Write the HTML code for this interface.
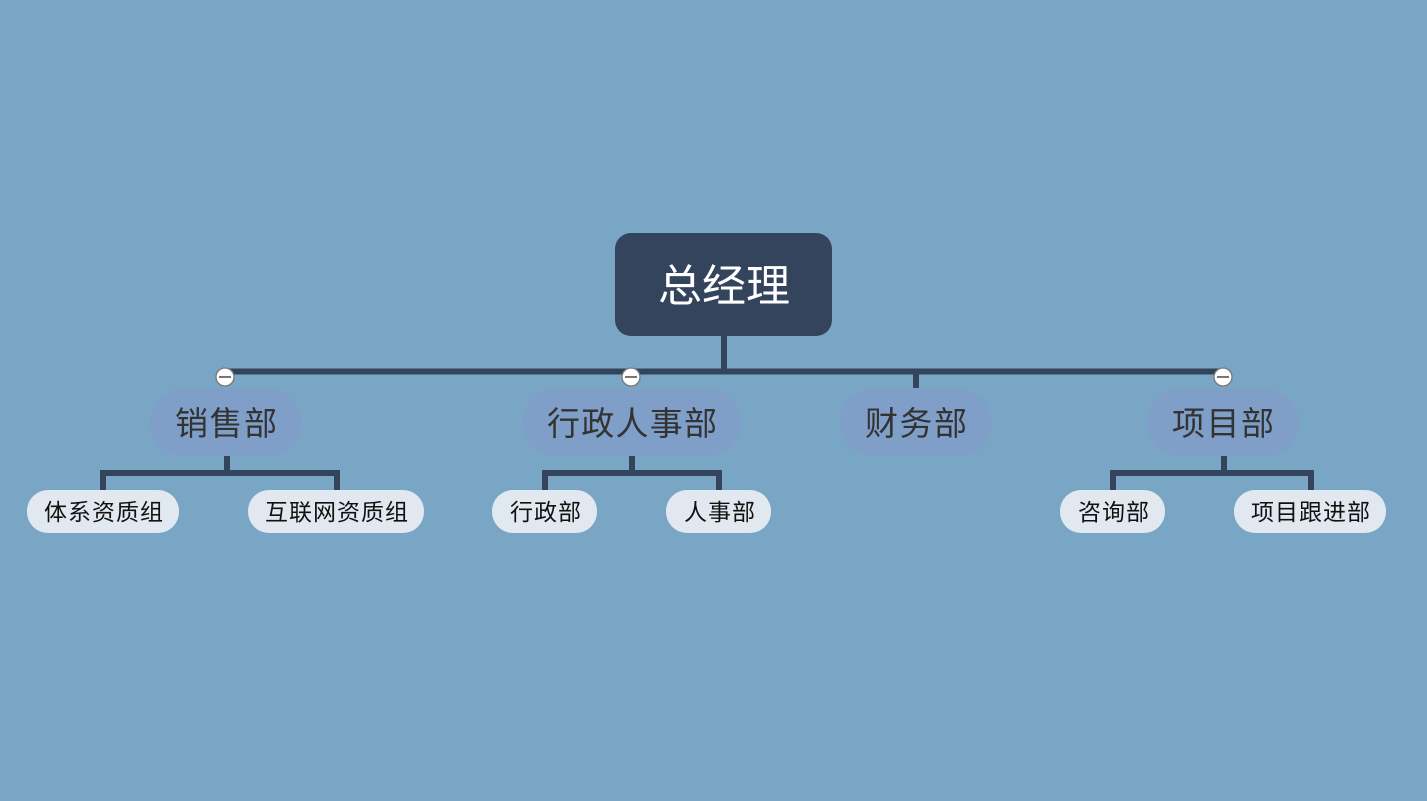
<!DOCTYPE html>
<html><head><meta charset="utf-8"><style>
html,body{margin:0;padding:0;background:#79a6c4;}
svg{display:block}
text{font-family:"Liberation Sans","Noto Sans CJK SC",sans-serif;}
</style></head><body>
<svg width="1427" height="801" viewBox="0 0 1427 801" xmlns="http://www.w3.org/2000/svg">
<rect width="1427" height="801" fill="#79a6c4"/>
<g stroke="#34445c" stroke-width="6" fill="none">
<line x1="724" y1="336" x2="724" y2="372"/>
<line x1="225" y1="371.5" x2="1223" y2="371.5"/>
<line x1="916" y1="371" x2="916" y2="388"/>
<path d="M227 456 V473 M103 490 V473 H337 V490"/>
<path d="M632 456 V473 M545 490 V473 H719 V490"/>
<path d="M1224 456 V473 M1113 490 V473 H1311 V490"/>
</g>
<rect x="615" y="233" width="217" height="103" rx="16" fill="#34445c"/>
<text x="658" y="301" font-size="44" fill="#fff" textLength="132" lengthAdjust="spacingAndGlyphs">总经理</text>
<g fill="#7f9fc8">
<rect x="150" y="389" width="152" height="67" rx="33"/>
<rect x="522" y="389" width="219" height="67" rx="33"/>
<rect x="840" y="389" width="152" height="67" rx="33"/>
<rect x="1147" y="389" width="152" height="67" rx="33"/>
</g>
<g font-size="33" fill="#333" lengthAdjust="spacingAndGlyphs">
<text x="175" y="435" textLength="102">销售部</text>
<text x="547" y="435" textLength="170">行政人事部</text>
<text x="865" y="435" textLength="102">财务部</text>
<text x="1172" y="435" textLength="102">项目部</text>
</g>
<g fill="#e1e8f0">
<rect x="27" y="490" width="152" height="43" rx="21"/>
<rect x="248" y="490" width="176" height="43" rx="21"/>
<rect x="492" y="490" width="105" height="43" rx="21"/>
<rect x="666" y="490" width="105" height="43" rx="21"/>
<rect x="1060" y="490" width="105" height="43" rx="21"/>
<rect x="1234" y="490" width="152" height="43" rx="21"/>
</g>
<g font-size="23" fill="#111" lengthAdjust="spacingAndGlyphs">
<text x="44" y="520" textLength="119">体系资质组</text>
<text x="265" y="520" textLength="143">互联网资质组</text>
<text x="510" y="520" textLength="71">行政部</text>
<text x="684" y="520" textLength="71">人事部</text>
<text x="1078" y="520" textLength="71">咨询部</text>
<text x="1251" y="520" textLength="119">项目跟进部</text>
</g>
<g fill="#fff" stroke="#777" stroke-width="1.3">
<circle cx="225" cy="377" r="9"/>
<circle cx="631" cy="377" r="9"/>
<circle cx="1223" cy="377" r="9"/>
</g>
<g stroke="#555" stroke-width="1.6">
<line x1="219" y1="377" x2="231" y2="377"/>
<line x1="625" y1="377" x2="637" y2="377"/>
<line x1="1217" y1="377" x2="1229" y2="377"/>
</g>
</svg>
</body></html>
